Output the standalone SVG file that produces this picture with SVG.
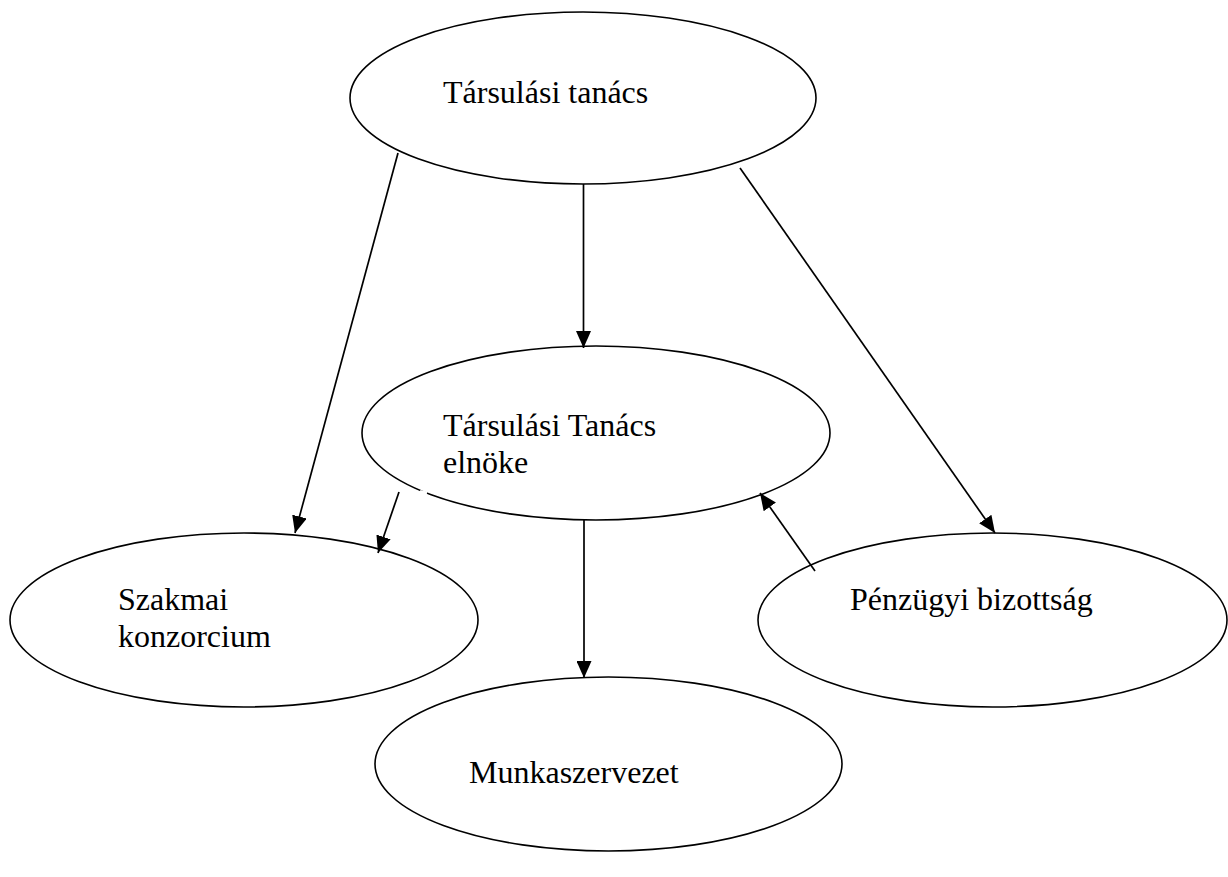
<svg xmlns="http://www.w3.org/2000/svg" width="1228" height="877" viewBox="0 0 1228 877">
<style>
.node ellipse{fill:#fff;stroke:#000;stroke-width:1.6}
.lbl{font-family:"Liberation Serif","Times New Roman",serif;font-size:32px;fill:#000}
.edge{stroke:#000;stroke-width:1.7;fill:none;marker-end:url(#arr)}
</style>
<defs>
<marker id="arr" markerUnits="userSpaceOnUse" markerWidth="17" markerHeight="15" refX="17" refY="7.5" orient="auto">
<path d="M0,0 L17,7.5 L0,15 z" fill="#000"/>
</marker>
</defs>
<rect width="1228" height="877" fill="#fff"/>
<g id="n1" class="node">
<ellipse cx="583" cy="98" rx="233" ry="86"/>
<text class="lbl" x="443" y="103">Társulási tanács</text>
</g>
<g id="n2" class="node">
<ellipse cx="596" cy="433" rx="234" ry="87"/>
<text class="lbl" x="443" y="436">Társulási Tanács</text>
<text class="lbl" x="443" y="473">elnöke</text>
</g>
<g id="n3" class="node">
<ellipse cx="244" cy="620" rx="234" ry="87"/>
<text class="lbl" x="118" y="610">Szakmai</text>
<text class="lbl" x="118" y="647">konzorcium</text>
</g>
<g id="n4" class="node">
<ellipse cx="992.5" cy="620" rx="234.5" ry="87"/>
<text class="lbl" x="850" y="610">Pénzügyi bizottság</text>
</g>
<g id="n5" class="node">
<ellipse cx="608.5" cy="764" rx="233.5" ry="87"/>
<text class="lbl" x="469" y="783">Munkaszervezet</text>
</g>
<g id="connectors">
<line class="edge" x1="583.5" y1="184" x2="583.5" y2="348"/>
<line class="edge" x1="584" y1="520" x2="584" y2="678"/>
<line class="edge" x1="398" y1="153" x2="295" y2="533"/>
<line class="edge" x1="399" y1="492" x2="378" y2="553"/>
<line class="edge" x1="740" y1="168" x2="995" y2="533"/>
<line class="edge" x1="815" y1="571" x2="760" y2="493"/>
<line x1="420" y1="491.5" x2="427" y2="493" stroke="#fff" stroke-width="3"/>
</g>
</svg>
